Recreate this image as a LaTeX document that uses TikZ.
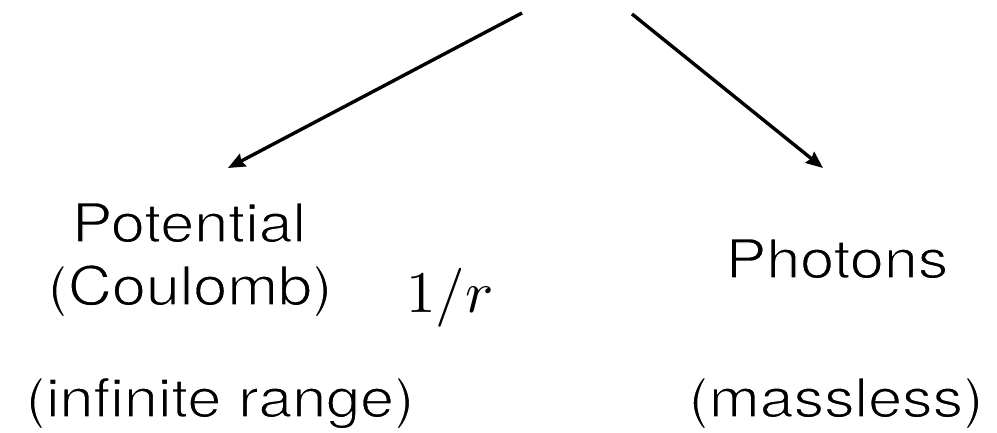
\documentclass[tikz,border=0pt]{standalone}
\usepackage{graphicx}
\usepackage{fontspec}
\setmainfont[FakeStretch=1.13]{TeX Gyre Heros}
\newfontfamily\lightface[FakeStretch=1.13,FakeBold=2.5]{TeX Gyre Heros}
\newcommand{\thintext}[1]{\special{pdf:literal direct 1 1 1 RG}#1}
\usetikzlibrary{arrows.meta}
\tikzset{
  lbl/.style={inner sep=0pt, anchor=base, font=\fontsize{54}{60}\lightface},
  mth/.style={inner sep=0pt, anchor=base},
  branch/.style={line width=3.4pt, -{Stealth[length=17pt,width=14pt,inset=2pt]}},
}
\begin{document}
\begin{tikzpicture}[x=1pt,y=1pt]
\useasboundingbox (0,0) rectangle (997,433);
\coordinate (ls) at (522,420);
\coordinate (lt) at (228,265);
\coordinate (rs) at (632,419);
\coordinate (rt) at (823,265);
\draw[branch] (ls) -- (lt);
\draw[branch] (rs) -- (rt);
\node[lbl] (pot) at (189,191) {\thintext{Potential}};
\node[lbl] (cou) at (190,128) {\thintext{(Coulomb)}};
\node[mth] (inv) at (450,120) {\scalebox{5.9}{$1/r$}};
\node[lbl] (inf) at (220,16) {\thintext{(infinite range)}};
\node[lbl] (pho) at (837,155) {\thintext{Photons}};
\node[lbl] (mas) at (836,16) {\thintext{(massless)}};
\end{tikzpicture}
\end{document}
